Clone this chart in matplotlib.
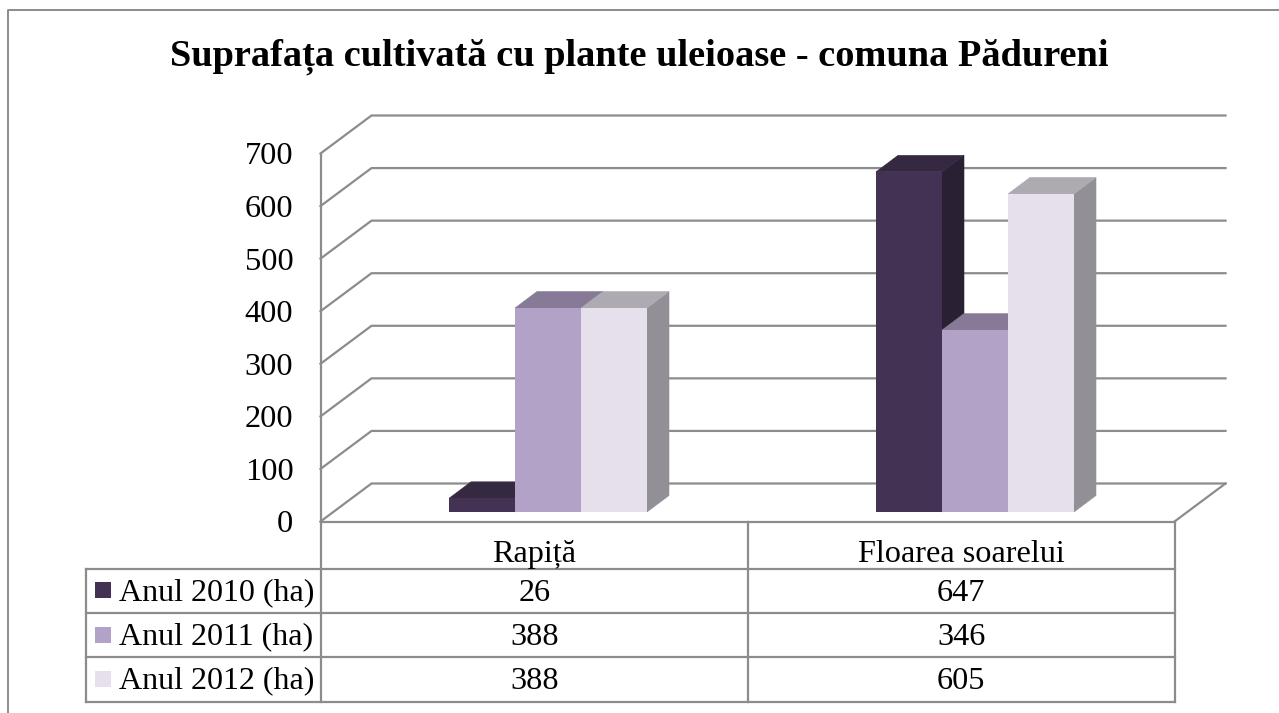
import matplotlib
matplotlib.use('Agg')
import matplotlib.pyplot as plt
from matplotlib.patches import Polygon, Rectangle

# Data
categories = ['Rapiță', 'Floarea soarelui']
series_names = ['Anul 2010 (ha)', 'Anul 2011 (ha)', 'Anul 2012 (ha)']
values_2010 = [26, 647]
values_2011 = [388, 346]
values_2012 = [388, 605]
y_ticks = [0, 100, 200, 300, 400, 500, 600, 700]
title = 'Suprafața cultivată cu plante uleioase - comuna Pădureni'

series = [values_2010, values_2011, values_2012]
front_colors = ['#433254', '#b2a2c7', '#e6e0ec']
top_colors = ['#352841', '#877a96', '#aeaab2']
side_colors = ['#2a2033', '#6f6480', '#928f96']
line_color = '#8c8c8c'

W, H = 1279, 713
plt.rcParams['font.family'] = ['Liberation Serif', 'DejaVu Serif']

fig = plt.figure(figsize=(W / 100, H / 100), dpi=100)

# Background axes in pixel coordinates: frame and table grid
bg = fig.add_axes([0, 0, 1, 1])
bg.set_xlim(0, W)
bg.set_ylim(H, 0)
bg.axis('off')

# Outer frame, only left and top are inside the picture
bg.plot([8, 8, W], [H, 9.5, 9.5], color=line_color, lw=1.4)

bg.text(639, 65.5, title, ha='center', va='baseline', fontsize=27.6, fontweight='bold', color='black')

# Data table
row_y = [521.5, 569, 613, 657, 702]
col_x = [320.5, 748, 1174.5]
label_left = 85.5
for i, y in enumerate(row_y):
    x0 = label_left if i > 0 else col_x[0]
    bg.plot([x0, col_x[-1]], [y, y], color=line_color, lw=1.6, solid_capstyle='projecting')
for x in col_x:
    bg.plot([x, x], [row_y[0], row_y[-1]], color=line_color, lw=1.6)
bg.plot([label_left, label_left], [row_y[1], row_y[-1]], color=line_color, lw=1.6)

value_baselines = [601, 645, 689]
label_baselines = [600, 644.5, 688.5]
for j, cat in enumerate(categories):
    xc = (col_x[j] + col_x[j + 1]) / 2
    bg.text(xc, 562, cat, ha='center', va='baseline', fontsize=23.2)
    for i, vals in enumerate(series):
        bg.text(xc, value_baselines[i], str(vals[j]), ha='center', va='baseline', fontsize=23.2)

for i, name in enumerate(series_names):
    yc = label_baselines[i] - 10
    bg.add_patch(Rectangle((95, yc - 8), 16, 16, facecolor=front_colors[i], edgecolor='none'))
    bg.text(119, label_baselines[i], name, ha='left', va='baseline', fontsize=23)

# Plot axes: x in category units, y in chart values
ax_left, ax_right = 320.5, 1174.5
ax_bottom, ax_top = 521.5, 153.5
ax = fig.add_axes([ax_left / W, 1 - ax_bottom / H, (ax_right - ax_left) / W, (ax_bottom - ax_top) / H])
ax.set_xlim(0, len(categories))
ax.set_ylim(0, 700)
ax.patch.set_visible(False)
for s in ['top', 'right', 'bottom']:
    ax.spines[s].set_visible(False)
ax.spines['left'].set_color(line_color)
ax.spines['left'].set_linewidth(1.6)
ax.set_xticks([])
ax.set_yticks(y_ticks)
ax.set_yticklabels([str(t) for t in y_ticks], fontsize=23.3)
ax.tick_params(axis='y', length=0, pad=19.5)

px_x = len(categories) / (ax_right - ax_left)
px_y = 700 / (ax_bottom - ax_top)

# Walls of the 3D box
wall_dx, wall_dy = 51 * px_x, 38 * px_y
for t in y_ticks:
    ax.plot([0, wall_dx, 2 + wall_dx], [t, t + wall_dy, t + wall_dy], color=line_color, lw=1.6, clip_on=False, zorder=1)
ax.plot([2, 2 + wall_dx], [0, wall_dy], color=line_color, lw=1.6, clip_on=False, zorder=1)

# Bars with fake depth
bar_w = 66 * px_x
depth_x, depth_y = 22 * px_x, 16.5 * px_y
base = 9.5 * px_y
shift = 14 * px_x
z = 3
for j in range(len(categories)):
    for i, vals in enumerate(series):
        x0 = j + 0.5 + shift + (i - 1.5) * bar_w
        x1 = x0 + bar_w
        v = vals[j] + base
        side = [(x1, base), (x1 + depth_x, base + depth_y), (x1 + depth_x, v + depth_y), (x1, v)]
        top = [(x0, v), (x1, v), (x1 + depth_x, v + depth_y), (x0 + depth_x, v + depth_y)]
        ax.add_patch(Polygon(side, facecolor=side_colors[i], edgecolor=side_colors[i], lw=0.4, clip_on=False, zorder=z))
        ax.add_patch(Polygon(top, facecolor=top_colors[i], edgecolor=top_colors[i], lw=0.4, clip_on=False, zorder=z))
        ax.bar(x0, vals[j], width=bar_w, bottom=base, align='edge', color=front_colors[i], zorder=z + 0.5, clip_on=False)
        z += 1

fig.savefig('out.png', dpi=100)
